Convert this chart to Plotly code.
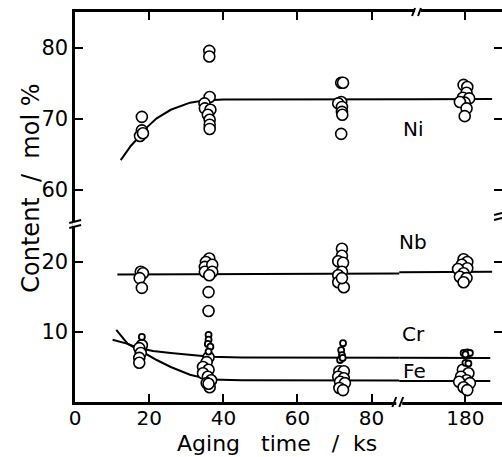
import plotly.graph_objects as go

# ---------------- data (aging time in ks, content in mol %) ----------------
ni_t = [18.0, 18.0, 17.5, 18.3,
        36.2, 36.2, 36.3, 34.9, 35.0, 36.5, 35.8, 36.3, 36.3, 36.3,
        71.8, 72.3, 71.8, 71.0, 72.0, 72.0, 72.1, 71.8,
        179.5, 180.5, 180.3, 179.3, 181.0, 179.8, 178.5, 180.3, 179.8]
ni_v = [70.3, 68.4, 67.6, 68.0,
        79.6, 78.8, 73.1, 72.2, 71.5, 71.3, 70.6, 69.9, 69.2, 68.6,
        75.1, 75.1, 72.4, 72.2, 71.7, 71.0, 70.6, 67.9,
        74.8, 74.5, 73.7, 73.0, 72.9, 72.3, 72.4, 71.5, 70.4]

nb_t = [17.7, 18.3, 17.4, 18.0,
        36.2, 35.3, 35.0, 37.0, 35.0, 37.0, 36.2, 36.0, 36.0,
        72.0, 72.0, 71.0, 72.3, 72.0, 71.0, 71.0, 72.5, 72.0,
        179.5, 180.5, 179.0, 180.5, 178.0, 179.5, 178.5, 180.3, 179.5]
nb_v = [18.6, 18.4, 17.7, 16.3,
        20.5, 20.0, 19.3, 19.6, 18.6, 18.6, 18.1, 15.7, 13.0,
        21.9, 20.9, 20.1, 19.9, 18.6, 18.1, 17.1, 16.4, 17.7,
        20.4, 20.0, 19.6, 19.1, 19.0, 18.4, 17.9, 17.7, 17.1]

cr_t = [18.0,
        36.0, 36.0, 35.8, 36.5, 36.0,
        72.3, 71.8, 72.0, 71.5, 72.2,
        179.5, 180.5, 181.2, 180.0, 180.0, 180.8]
cr_v = [9.3,
        9.6, 8.9, 8.3, 7.9, 7.2,
        8.4, 7.4, 6.7, 6.0, 6.3,
        7.0, 7.1, 7.0, 6.8, 5.6, 5.5]

fe_t = [18.0, 17.3, 17.7, 17.3, 17.3,
        36.0, 35.5, 34.5, 36.0, 34.5, 35.8, 36.7, 35.5, 36.3, 36.0,
        71.3, 72.5, 71.0, 72.5, 71.5, 72.8, 71.3, 72.3,
        179.3, 180.8, 178.8, 180.3, 178.3, 181.2, 179.5, 180.5]
fe_v = [8.1, 7.7, 7.0, 6.3, 5.6,
        6.4, 5.7, 5.0, 4.6, 4.1, 3.6, 3.1, 2.7, 2.1, 2.6,
        4.4, 4.4, 3.6, 3.4, 2.9, 2.7, 2.0, 1.7,
        4.6, 4.1, 3.6, 3.1, 2.9, 2.7, 2.1, 1.7]

# hand-drawn trend curves
ni_fit_t = [12.3, 15.0, 18.0, 19.5, 22.0, 25.8, 31.0, 34.7, 40.0, 187.2]
ni_fit_v = [64.2, 66.2, 67.9, 68.9, 70.1, 71.3, 72.3, 72.6, 72.75, 72.8]
nb_fit_t = [11.4, 187.2]
nb_fit_v = [18.2, 18.6]
cr_fit_t = [10.1, 14.2, 16.8, 21.0, 25.8, 31.0, 36.5, 45.0, 186.7]
cr_fit_v = [8.9, 8.3, 7.75, 7.3, 7.0, 6.7, 6.45, 6.35, 6.3]
fe_fit_t = [11.1, 14.2, 18.7, 22.0, 25.8, 31.0, 36.4, 45.0, 186.7]
fe_fit_v = [10.3, 8.3, 7.0, 6.0, 5.0, 3.9, 3.2, 3.1, 3.0]

x_ticks_left = [0, 20, 40, 60, 80]
x_ticks_right = [180]
y_ticks_low = [10, 20]
y_ticks_high = [60, 70, 80]

species_labels = ["Ni", "Nb", "Cr", "Fe"]

# ---------------- layout helpers ----------------
W, H = 502, 457
FONT = "DejaVu Sans"
PXK = 3.75          # px per ks
PXY_LOW = 7.0       # px per mol% (lower)
PXY_HIGH = 7.1      # px per mol% (upper)


def fx(p):
    return p / W


def fy(p):
    return 1 - p / H


def split(t, v, right):
    pts = [(a, b) for a, b in zip(t, v) if (a > 100) == right]
    return [p[0] for p in pts], [p[1] for p in pts]


fig = go.Figure()

# axis pairs: lower-left (x,y), lower-right (x2,y3), upper-left (x3,y2), upper-right (x4,y4)
LOW = [("x", "y", False), ("x2", "y3", True)]
HIGH = [("x3", "y2", False), ("x4", "y4", True)]

line_style = dict(color="black", width=2)


def add_line(t, v, pairs):
    for xa, ya, _ in pairs:
        fig.add_trace(go.Scatter(x=t, y=v, mode="lines", line=line_style,
                                 xaxis=xa, yaxis=ya, hoverinfo="skip", showlegend=False))


def add_pts(t, v, pairs, size, lw):
    for xa, ya, right in pairs:
        xs, ys = split(t, v, right)
        fig.add_trace(go.Scatter(x=xs, y=ys, mode="markers",
                                 marker=dict(symbol="circle", size=size, color="white",
                                             line=dict(color="black", width=lw)),
                                 xaxis=xa, yaxis=ya, showlegend=False, cliponaxis=False))


add_line(ni_fit_t, ni_fit_v, HIGH)
add_line(nb_fit_t, nb_fit_v, LOW)
add_line(cr_fit_t, cr_fit_v, LOW)
add_line(fe_fit_t, fe_fit_v, LOW)

add_pts(ni_t, ni_v, HIGH, 11, 1.6)
add_pts(nb_t, nb_v, LOW, 11, 1.6)
add_pts(fe_t, fe_v, LOW, 11, 1.6)
add_pts(cr_t, cr_v, LOW, 6, 1.8)

tickfont = dict(family=FONT, size=21, color="black")
xtickfont = dict(family=FONT, size=20, color="black")
common = dict(showgrid=False, zeroline=False, linecolor="black", linewidth=2.5,
              ticks="inside", ticklen=8, tickwidth=2, tickcolor="black",
              tickfont=tickfont, showline=True, fixedrange=True)

# panels touch, so the trend lines run on through the breaks
x_split = 398        # bottom axis break (px)
xt_split = 417       # top axis break (px)
y_split = 224        # left axis break (px)

x_right_lo = 180 - (465 - x_split) / PXK
xt_right_lo = 180 - (465 - xt_split) / PXK
x_right_hi = 180 + (W - 465) / PXK
y_low_hi = (402 - y_split) / PXY_LOW
y_high_lo = 70 - (y_split - 119) / PXY_HIGH
y_high_hi = 70 + (119 - 12) / PXY_HIGH

fig.update_layout(
    width=W, height=H, margin=dict(l=0, r=0, t=0, b=0),
    paper_bgcolor="white", plot_bgcolor="white",
    font=dict(family=FONT, color="black"),
    xaxis=dict(common, domain=[fx(70), fx(x_split)], anchor="y",
               range=[0, (x_split - 70) / PXK], tickvals=x_ticks_left,
               tickfont=xtickfont, ticklabelstandoff=-4),
    xaxis2=dict(common, domain=[fx(x_split), 1], anchor="y3",
                range=[x_right_lo, x_right_hi],
                tickvals=x_ticks_right, tickfont=xtickfont, ticklabelstandoff=-4),
    xaxis3=dict(common, domain=[fx(70), fx(xt_split)], anchor="y2", side="top",
                range=[0, (xt_split - 70) / PXK], tickvals=x_ticks_left[1:],
                showticklabels=False),
    xaxis4=dict(common, domain=[fx(xt_split), 1], anchor="y4", side="top",
                range=[xt_right_lo, x_right_hi],
                tickvals=x_ticks_right, showticklabels=False),
    yaxis=dict(common, domain=[fy(402), fy(y_split)], anchor="x",
               range=[0, y_low_hi], tickvals=y_ticks_low),
    yaxis2=dict(common, domain=[fy(y_split), fy(12)], anchor="x3",
                range=[y_high_lo, y_high_hi], tickvals=y_ticks_high),
    yaxis3=dict(common, domain=[fy(402), fy(y_split)], anchor="x2", side="right",
                range=[0, y_low_hi], tickvals=y_ticks_low,
                showticklabels=False, showline=False),
    yaxis4=dict(common, domain=[fy(y_split), fy(12)], anchor="x4", side="right",
                range=[y_high_lo, y_high_hi],
                tickvals=y_ticks_high, showticklabels=False, showline=False),
)

nb = "\u00a0"
annots = [
    dict(text=f"Aging{nb*3}time{nb*3}/{nb*2}ks", x=fx(274), y=fy(443), size=22, angle=0),
    dict(text=f"Content{nb*2}/{nb*2}mol{nb}%", x=fx(25), y=fy(188), size=24, angle=-90),
    dict(text=species_labels[0], x=fx(412), y=fy(129), size=20, angle=0),
    dict(text=species_labels[1], x=fx(412), y=fy(242), size=20, angle=0),
    dict(text=species_labels[2], x=fx(412), y=fy(334), size=20, angle=0),
    dict(text=species_labels[3], x=fx(413), y=fy(371), size=20, angle=0),
]
for a in annots:
    fig.add_annotation(text=a["text"], x=a["x"], y=a["y"], xref="paper", yref="paper",
                       xanchor="center", yanchor="middle", showarrow=False,
                       textangle=a["angle"], font=dict(family=FONT, size=a["size"], color="black"))

# gaps in the axis lines at the breaks (white), then the break marks
gaps = [
    ((395, 399), (401, 405)),   # bottom
    ((414, 9), (420, 15)),      # top
    ((67, 222), (73, 226)),     # left
]
for (x0, y0), (x1, y1) in gaps:
    fig.add_shape(type="rect", xref="paper", yref="paper", layer="above",
                  x0=fx(x0), y0=fy(y0), x1=fx(x1), y1=fy(y1),
                  fillcolor="white", line=dict(width=0))

breaks = [
    ((391, 407), (395, 397)), ((398, 407), (402, 397)),   # bottom axis
    ((411, 16), (414, 8)), ((417, 16), (420, 8)),         # top axis
    ((64, 223), (76, 220)), ((64, 228), (76, 225)),       # left axis
    ((494, 215), (502, 213)), ((494, 220), (502, 218)),   # right axis
]
for (x0, y0), (x1, y1) in breaks:
    fig.add_shape(type="line", xref="paper", yref="paper", layer="above",
                  x0=fx(x0), y0=fy(y0), x1=fx(x1), y1=fy(y1),
                  line=dict(color="black", width=2))

fig.write_html("out.html")
